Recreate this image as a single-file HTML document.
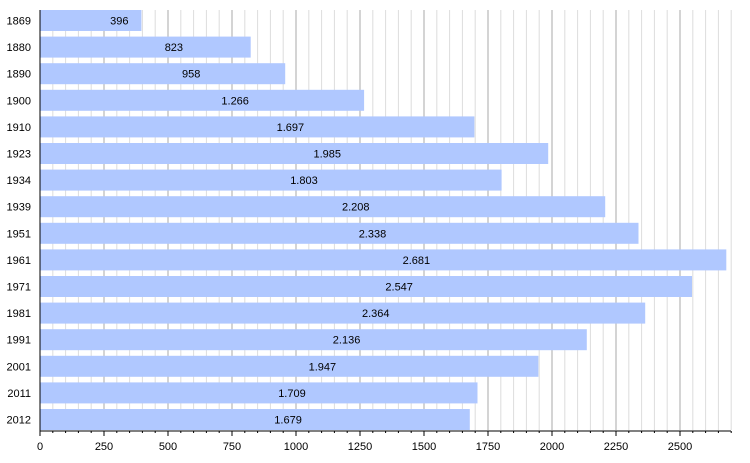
<!DOCTYPE html>
<html><head><meta charset="utf-8"><style>html,body{margin:0;padding:0;background:#fff}</style></head><body>
<svg width="750" height="458" xmlns="http://www.w3.org/2000/svg" font-family="Liberation Sans, sans-serif" font-size="11">
<path stroke="#dddddd" stroke-width="1" d="M52.8 10V430M65.6 10V430M78.4 10V430M91.2 10V430M116.8 10V430M129.6 10V430M142.4 10V430M155.2 10V430M180.8 10V430M193.6 10V430M206.4 10V430M219.2 10V430M244.8 10V430M257.6 10V430M270.4 10V430M283.2 10V430M308.8 10V430M321.6 10V430M334.4 10V430M347.2 10V430M372.8 10V430M385.6 10V430M398.4 10V430M411.2 10V430M436.8 10V430M449.6 10V430M462.4 10V430M475.2 10V430M500.8 10V430M513.6 10V430M526.4 10V430M539.2 10V430M564.8 10V430M577.6 10V430M590.4 10V430M603.2 10V430M628.8 10V430M641.6 10V430M654.4 10V430M667.2 10V430M692.8 10V430M705.6 10V430M718.4 10V430M731.2 10V430"/>
<path stroke="#aaaaaa" stroke-width="1" d="M104 10V430M168 10V430M232 10V430M296 10V430M360 10V430M424 10V430M488 10V430M552 10V430M616 10V430M680 10V430"/>
<g fill="#b0c8ff">
<rect x="40" y="10" width="101.4" height="21"/>
<rect x="40" y="36.6" width="210.7" height="21"/>
<rect x="40" y="63.2" width="245.2" height="21"/>
<rect x="40" y="89.8" width="324.1" height="21"/>
<rect x="40" y="116.4" width="434.4" height="21"/>
<rect x="40" y="143" width="508.2" height="21"/>
<rect x="40" y="169.6" width="461.6" height="21"/>
<rect x="40" y="196.2" width="565.2" height="21"/>
<rect x="40" y="222.8" width="598.5" height="21"/>
<rect x="40" y="249.4" width="686.3" height="21"/>
<rect x="40" y="276" width="652" height="21"/>
<rect x="40" y="302.6" width="605.2" height="21"/>
<rect x="40" y="329.2" width="546.8" height="21"/>
<rect x="40" y="355.8" width="498.4" height="21"/>
<rect x="40" y="382.4" width="437.5" height="21"/>
<rect x="40" y="409" width="429.8" height="21"/>
</g>
<g fill="#000">
<text x="110.1" y="24.5">396</text>
<text x="164.7" y="51.1">823</text>
<text x="182" y="77.7">958</text>
<text x="221.4" y="104.3">1.266</text>
<text x="276.6" y="130.9">1.697</text>
<text x="313.5" y="157.5">1.985</text>
<text x="290.2" y="184.1">1.803</text>
<text x="342" y="210.7">2.208</text>
<text x="358.7" y="237.3">2.338</text>
<text x="402.6" y="263.9">2.681</text>
<text x="385.4" y="290.5">2.547</text>
<text x="362" y="317.1">2.364</text>
<text x="332.8" y="343.7">2.136</text>
<text x="308.6" y="370.3">1.947</text>
<text x="278.2" y="396.9">1.709</text>
<text x="274.3" y="423.5">1.679</text>
</g>
<g fill="#000" text-anchor="end">
<text x="31" y="24.5">1869</text>
<text x="31" y="51.1">1880</text>
<text x="31" y="77.7">1890</text>
<text x="31" y="104.3">1900</text>
<text x="31" y="130.9">1910</text>
<text x="31" y="157.5">1923</text>
<text x="31" y="184.1">1934</text>
<text x="31" y="210.7">1939</text>
<text x="31" y="237.3">1951</text>
<text x="31" y="263.9">1961</text>
<text x="31" y="290.5">1971</text>
<text x="31" y="317.1">1981</text>
<text x="31" y="343.7">1991</text>
<text x="31" y="370.3">2001</text>
<text x="31" y="396.9">2011</text>
<text x="31" y="423.5">2012</text>
</g>
<path stroke="#000" stroke-width="1" fill="none" d="M40 10V436M40 431H731"/>
<path stroke="#000" stroke-width="1" d="M52.8 431v2M65.6 431v2M78.4 431v2M91.2 431v2M116.8 431v2M129.6 431v2M142.4 431v2M155.2 431v2M180.8 431v2M193.6 431v2M206.4 431v2M219.2 431v2M244.8 431v2M257.6 431v2M270.4 431v2M283.2 431v2M308.8 431v2M321.6 431v2M334.4 431v2M347.2 431v2M372.8 431v2M385.6 431v2M398.4 431v2M411.2 431v2M436.8 431v2M449.6 431v2M462.4 431v2M475.2 431v2M500.8 431v2M513.6 431v2M526.4 431v2M539.2 431v2M564.8 431v2M577.6 431v2M590.4 431v2M603.2 431v2M628.8 431v2M641.6 431v2M654.4 431v2M667.2 431v2M692.8 431v2M705.6 431v2M718.4 431v2M731.2 431v2M104 431v5M168 431v5M232 431v5M296 431v5M360 431v5M424 431v5M488 431v5M552 431v5M616 431v5M680 431v5"/>
<g fill="#000" text-anchor="middle">
<text x="40" y="450">0</text>
<text x="104" y="450">250</text>
<text x="168" y="450">500</text>
<text x="232" y="450">750</text>
<text x="296" y="450">1000</text>
<text x="360" y="450">1250</text>
<text x="424" y="450">1500</text>
<text x="488" y="450">1750</text>
<text x="552" y="450">2000</text>
<text x="616" y="450">2250</text>
<text x="680" y="450">2500</text>
</g>
</svg>
</body></html>
